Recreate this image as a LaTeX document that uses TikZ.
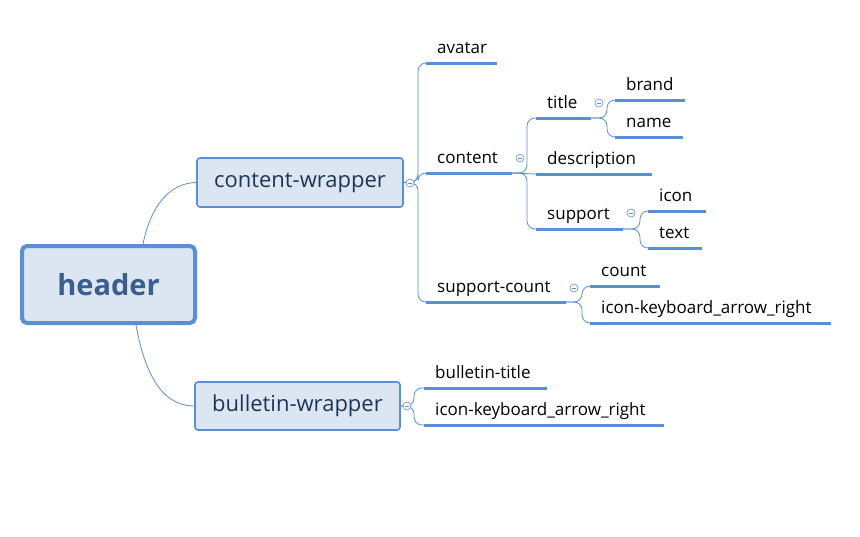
\documentclass[tikz,border=0pt]{standalone}
\usepackage{fontspec}
\setmainfont{Open Sans}
\definecolor{lineblue}{HTML}{5A8ED6}
\definecolor{boxfill}{HTML}{DCE6F2}
\definecolor{boxdraw}{HTML}{5B8ED2}
\definecolor{hdrtext}{HTML}{3A5E8E}
\definecolor{wraptext}{HTML}{1F3557}
\tikzset{
  conn/.style={draw=lineblue, line width=0.8pt, rounded corners=8pt},
  uline/.style={draw=lineblue, line width=3pt},
  leaftext/.style={anchor=base west, inner sep=0pt, font=\fontsize{17}{20}\selectfont, text=black},
  wrapbox/.style={draw=boxdraw, fill=boxfill, line width=1.6pt, rounded corners=3pt, inner sep=0pt, text=wraptext, font=\fontsize{22}{26}\selectfont},
  hdrbox/.style={draw=boxdraw, fill=boxfill, line width=4pt, rounded corners=5pt, inner sep=0pt, text=hdrtext, font=\bfseries\fontsize{29}{34}\selectfont},
  collapse/.style={circle, draw=lineblue, fill=white, line width=0.6pt, minimum size=8pt, inner sep=0pt,
    path picture={\draw[lineblue, line width=0.6pt] ([xshift=-2pt]path picture bounding box.center) -- ([xshift=2pt]path picture bounding box.center);}}
}
\newcommand\leafnode[5]{%
  \coordinate (#1-l) at (#2,#4);
  \coordinate (#1-r) at (#3,#4);
  \draw[uline] (#1-l) -- (#1-r);
  \node[leaftext] (#1) at ([xshift=11pt,yshift=10pt]#1-l) {#5};
}
\begin{document}
\begin{tikzpicture}[x=1pt,y=-1pt]
\useasboundingbox (0,0) rectangle (860,536);
% main boxes
\node[hdrbox, minimum width=173pt, minimum height=77pt] (hdr) at (108.5,284.5) {header};
\node[wrapbox, minimum width=206pt, minimum height=49pt] (cw) at (300,182.5) {\raisebox{-2.5pt}{content-wrapper}};
\node[wrapbox, minimum width=205pt, minimum height=48pt] (bw) at (297.5,406) {\raisebox{-2.5pt}{bulletin-wrapper}};
\coordinate (hdr-t) at (143,244);
\coordinate (hdr-b) at (136,325);
\draw[conn] (hdr-t) .. controls (151,205) and (170,183) .. (cw.west);
\draw[conn] (hdr-b) .. controls (146,380) and (165,406) .. (bw.west);
% leaves
\leafnode{avatar}{426}{497}{63}{avatar}
\leafnode{content}{426}{512}{173}{content}
\leafnode{supcount}{426}{566}{302}{support-count}
\leafnode{title}{536}{591}{118}{title}
\leafnode{desc}{536}{652}{174}{description}
\leafnode{support}{536}{623}{229}{support}
\leafnode{brand}{615}{685}{100}{brand}
\leafnode{name}{615}{683}{137}{name}
\leafnode{icon}{648}{706}{211}{icon}
\leafnode{text}{648}{702}{248}{text}
\leafnode{count}{590}{660}{286}{count}
\leafnode{scicon}{590}{831}{323}{icon-keyboard\_arrow\_right}
\leafnode{btitle}{424}{547}{388}{bulletin-title}
\leafnode{bicon}{424}{664}{425}{icon-keyboard\_arrow\_right}
% spines
\coordinate (cw-sp) at (418,182.5);
\coordinate (bw-sp) at (414,406);
\coordinate (content-sp) at (527,173);
\coordinate (title-sp) at (607,118);
\coordinate (support-sp) at (640,229);
\coordinate (supcount-sp) at (582,302);
% connectors
\foreach \c in {avatar,content,supcount} \draw[conn] (cw.east) -- (cw-sp) |- (\c-l);
\foreach \c in {btitle,bicon} \draw[conn] (bw.east) -- (bw-sp) |- (\c-l);
\foreach \c in {title,support} \draw[conn] (content-r) -- (content-sp) |- (\c-l);
\draw[conn] (content-r) -- (desc-l);
\foreach \c in {brand,name} \draw[conn] (title-r) -- (title-sp) |- (\c-l);
\foreach \c in {icon,text} \draw[conn] (support-r) -- (support-sp) |- (\c-l);
\foreach \c in {count,scicon} \draw[conn] (supcount-r) -- (supcount-sp) |- (\c-l);
% collapse markers
\node[collapse] (cwc) at (410,183) {};
\node[collapse] (bwc) at (407,406) {};
\node[collapse] (contentc) at (520,158) {};
\node[collapse] (titlec) at (599,103) {};
\node[collapse] (supportc) at (631,213) {};
\node[collapse] (supcountc) at (574,288) {};
\end{tikzpicture}
\end{document}
